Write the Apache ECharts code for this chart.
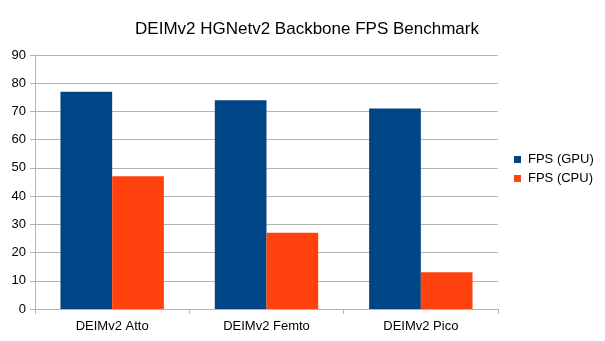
<!DOCTYPE html>
<html><head><meta charset="utf-8">
<script src="https://cdn.jsdelivr.net/npm/echarts@6/dist/echarts.min.js"></script>
<style>html,body{margin:0;padding:0;background:#fff}#c{width:605px;height:341px}</style>
</head><body><div id="c"></div>
<script>
const categories = ['DEIMv2 Atto', 'DEIMv2 Femto', 'DEIMv2 Pico'];
const gpuFps = [77, 74, 71];
const cpuFps = [47, 27, 13];
const seriesNames = ['FPS (GPU)', 'FPS (CPU)'];
const titleText = 'DEIMv2 HGNetv2 Backbone FPS Benchmark';

const chart = echarts.init(document.getElementById('c'));
const font = 'Liberation Sans';
chart.setOption({
  animation: false,
  backgroundColor: '#fff',
  title: {text: titleText, left: 302, top: 16, textAlign: 'center',
    textStyle: {fontFamily: font, fontSize: 17, fontWeight: 'normal', color: '#000'}},
  legend: {orient: 'vertical', left: 514, top: 152, itemWidth: 7, itemHeight: 7, itemGap: 4,
    icon: 'rect', padding: 0,
    textStyle: {fontFamily: font, fontSize: 13, lineHeight: 15, color: '#000', padding: [0,0,0,2]}},
  grid: {left: 35, right: 107, top: 55, bottom: 32, containLabel: false},
  xAxis: {type: 'category', data: categories,
    axisLine: {lineStyle: {color: '#b3b3b3'}},
    axisTick: {show: true, length: 5, lineStyle: {color: '#b3b3b3'}},
    axisLabel: {fontFamily: font, fontSize: 13, color: '#000', margin: 11}},
  yAxis: {type: 'value', min: 0, max: 90, interval: 10,
    axisLine: {show: true, lineStyle: {color: '#b3b3b3'}},
    axisTick: {show: true, length: 5, lineStyle: {color: '#b3b3b3'}},
    splitLine: {lineStyle: {color: '#b3b3b3'}},
    axisLabel: {fontFamily: font, fontSize: 13, color: '#000', margin: 9}},
  series: [
    {name: seriesNames[0], type: 'bar', data: gpuFps, barGap: '0%', barCategoryGap: '33%',
     itemStyle: {color: '#004586'}},
    {name: seriesNames[1], type: 'bar', data: cpuFps, barGap: '0%', barCategoryGap: '33%',
     itemStyle: {color: '#ff420e'}}
  ]
});
</script></body></html>
